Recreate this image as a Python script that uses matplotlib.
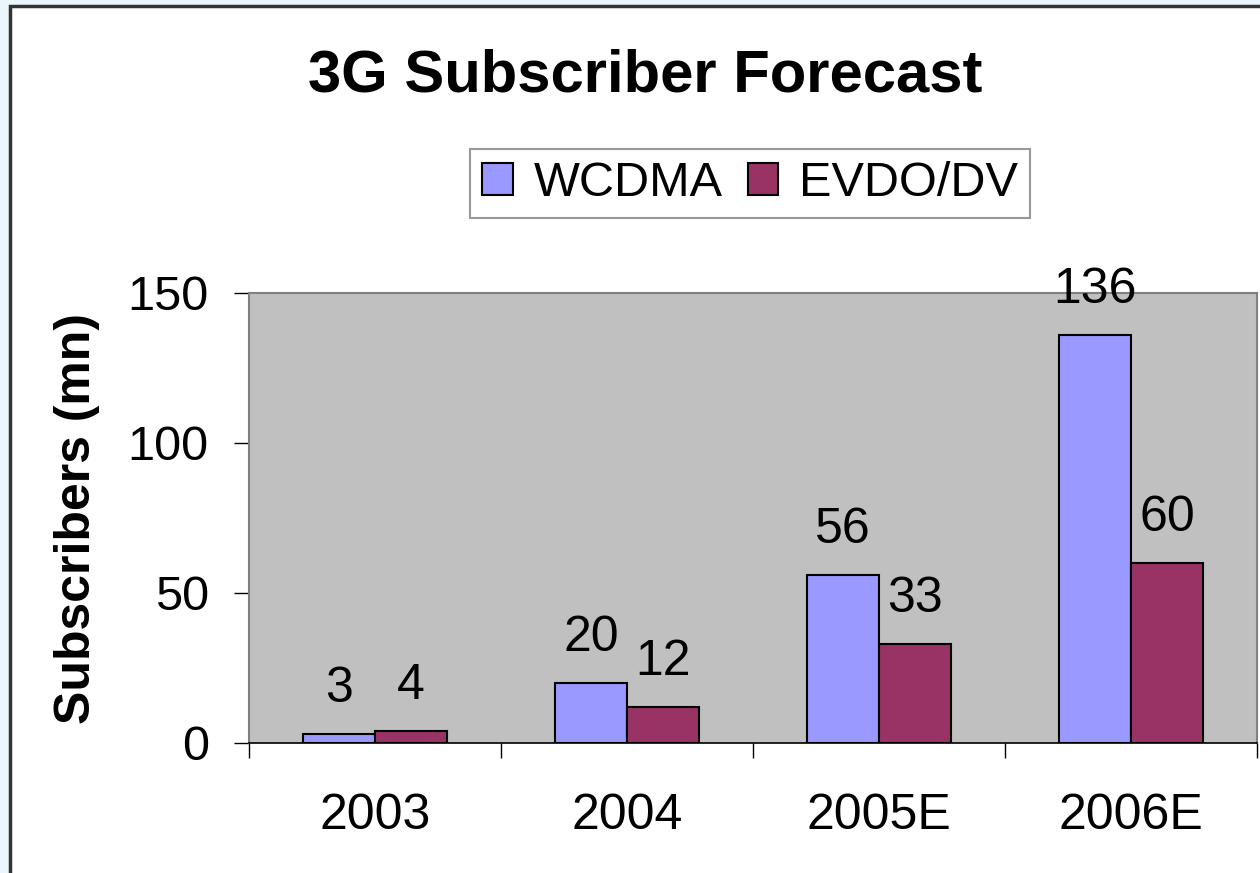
import matplotlib
matplotlib.use("Agg")
import matplotlib.pyplot as plt
from matplotlib.patches import Rectangle
import numpy as np

# Forecast data (millions of subscribers)
years = ["2003", "2004", "2005E", "2006E"]
wcdma = [3, 20, 56, 136]
evdo = [4, 12, 33, 60]
series_names = ["WCDMA", "EVDO/DV"]
y_ticks = [0, 50, 100, 150]

plt.rcParams["font.family"] = ["Liberation Sans", "DejaVu Sans"]

fig = plt.figure(figsize=(12.6, 8.73), dpi=100)
fig.patch.set_facecolor("#EAF6FC")

# white chart panel with a dark border (cut off at right and bottom)
panel = Rectangle((10 / 1260, -0.05), 1.1, 1 - 6 / 873 + 0.05,
                  transform=fig.transFigure, facecolor="white",
                  edgecolor="#333333", linewidth=2.5, zorder=-10)
fig.patches.append(panel)

ax = fig.add_axes([249 / 1260, 1 - 743 / 873, 1008 / 1260, 450 / 873])
ax.set_zorder(1)
ax.set_facecolor("#C0C0C0")

x = np.arange(len(years))
w = 0.286
b1 = ax.bar(x - w / 2, wcdma, w, color="#9999FF", edgecolor="black",
            linewidth=1.5, label=series_names[0], zorder=3)
b2 = ax.bar(x + w / 2, evdo, w, color="#993366", edgecolor="black",
            linewidth=1.5, label=series_names[1], zorder=3)

for bars, vals in [(b1, wcdma), (b2, evdo)]:
    for rect, v in zip(bars, vals):
        ax.annotate(str(v), (rect.get_x() + rect.get_width() / 2, v),
                    xytext=(0, 15.5), textcoords="offset points",
                    ha="center", va="bottom", fontsize=36, zorder=5)

ax.set_xlim(-0.5, len(years) - 0.5)
ax.set_ylim(0, 150)
ax.set_yticks(y_ticks)

# tick marks between categories, labels at the centres
ax.set_xticks(np.arange(len(years) + 1) - 0.5)
ax.set_xticklabels([])
ax.set_xticks(x, minor=True)
ax.set_xticklabels(years, minor=True)
ax.tick_params(axis="x", which="major", direction="out", length=11, width=1)
ax.tick_params(axis="x", which="minor", length=0, pad=36, labelsize=36)
ax.tick_params(axis="y", direction="out", length=11, width=1, pad=18,
               labelsize=35)

for side in ["top", "right", "left"]:
    ax.spines[side].set_color("#808080")
    ax.spines[side].set_linewidth(1.5)
ax.spines["bottom"].set_color("black")
ax.spines["bottom"].set_linewidth(1.2)

ax.set_ylabel("Subscribers (mn)", fontsize=36, fontweight="bold", labelpad=20)

fig.text(645 / 1260, 1 - 92 / 873, "3G Subscriber Forecast", ha="center",
         va="baseline", fontsize=43, fontweight="bold")

leg = fig.legend(loc="center", bbox_to_anchor=(750 / 1260, 1 - 183.5 / 873),
                 ncol=2, fontsize=35, frameon=True, fancybox=False,
                 edgecolor="#808080", handlelength=0.62, handleheight=0.65,
                 handletextpad=0.43, columnspacing=0.52, borderpad=0.25)
leg.get_frame().set_linewidth(1.5)

fig.savefig("out.png", dpi=100, facecolor=fig.get_facecolor())
